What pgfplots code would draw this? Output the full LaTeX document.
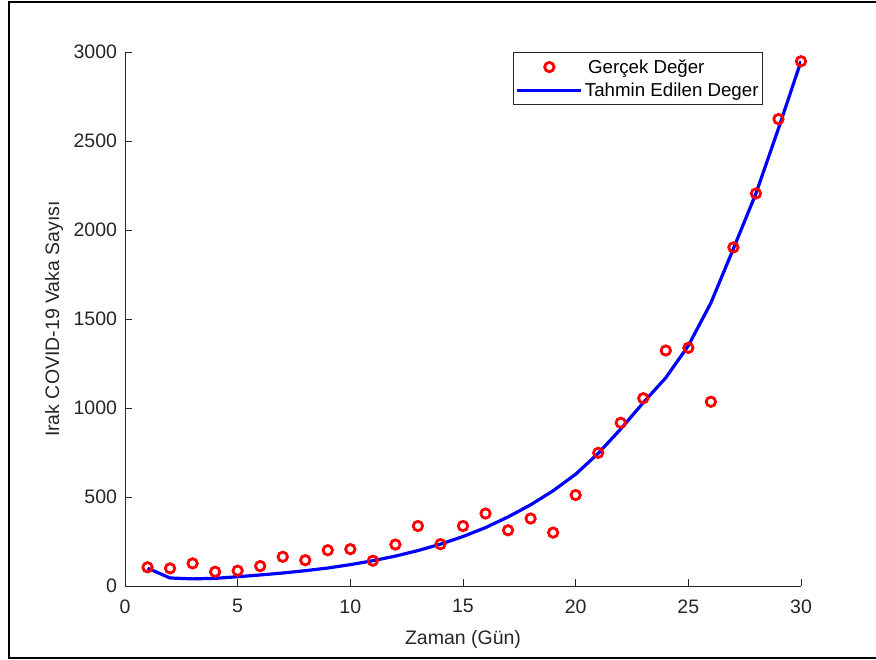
\documentclass[border=0pt]{standalone}
\usepackage{fontspec}
\setmainfont{Liberation Sans}
\usepackage{pgfplots}
\pgfplotsset{compat=1.18}

\definecolor{axgray}{RGB}{38,38,38}
\pgfplotsset{
  markleg/.style={legend image code/.code={\draw[##1] plot coordinates {(32pt,0pt)};}},
  lineleg/.style={legend image code/.code={\draw[##1] (0pt,0pt) -- (64pt,0pt);}},
}

\begin{document}
\begin{tikzpicture}[x=1pt,y=1pt]
\useasboundingbox (0,0) rectangle (876,660);
\draw[line width=2.2pt] (880,658) -- (9,658) -- (9,2) -- (880,2);
\begin{axis}[
  at={(125pt,74pt)}, anchor=south west,
  scale only axis,
  width=676pt, height=534pt,
  xmin=0, xmax=30, ymin=0, ymax=3000,
  xtick={0,5,...,30}, ytick={0,500,...,3000},
  axis x line=bottom, axis y line=left,
  axis line style={-, line width=0.9pt, draw=axgray},
  tick style={line width=0.9pt, draw=axgray},
  tick align=inside, major tick length=6.7pt,
  /pgf/number format/assume math mode=true,
  /pgf/number format/1000 sep={},
  ticklabel style={font=\fontsize{19.5}{22}\selectfont, text=axgray},
  xticklabel style={yshift=-10pt},
  yticklabel style={xshift=-4.5pt},
  xlabel={Zaman (Gün)}, ylabel={Irak COVID-19 Vaka Sayısı},
  label style={font=\fontsize{19.5}{22}\selectfont, text=axgray},
  x label style={at={(axis description cs:0.5,-0.0993)}, anchor=center},
  y label style={at={(axis description cs:-0.105,0.5)}, anchor=center},
  legend style={at={(0.9438,1)}, anchor=north east, draw=axgray, line width=0.9pt,
    font=\fontsize{18.7}{21}\selectfont, inner xsep=2pt, inner ysep=5pt,
    row sep=4pt, cells={anchor=west}},
]
\addplot[only marks, mark=o, mark size=4.7pt, red, line width=2.8pt, markleg]
coordinates {
(1,105) (2,99) (3,127) (4,80) (5,86) (6,112) (7,164) (8,145) (9,201) (10,207)
(11,142) (12,233) (13,337) (14,235) (15,337) (16,407) (17,313) (18,379) (19,300) (20,511)
(21,748) (22,917) (23,1055) (24,1323) (25,1338) (26,1035) (27,1902) (28,2205) (29,2623) (30,2948)
};
\addlegendentry{\,Gerçek Değer}
\addplot[blue, line width=3.2pt, mark=none, lineleg]
coordinates {
(1,100) (2,45) (3,40) (4,43) (5,52) (6,62) (7,73) (8,86) (9,101) (10,120)
(11,142) (12,168) (13,199) (14,235) (15,278) (16,328) (17,388) (18,456) (19,535) (20,628)
(21,745) (22,882) (23,1030) (24,1170) (25,1350) (26,1590) (27,1895) (28,2205) (29,2570) (30,2948)
};
\addlegendentry{Tahmin Edilen Deger}
\end{axis}
\end{tikzpicture}
\end{document}
